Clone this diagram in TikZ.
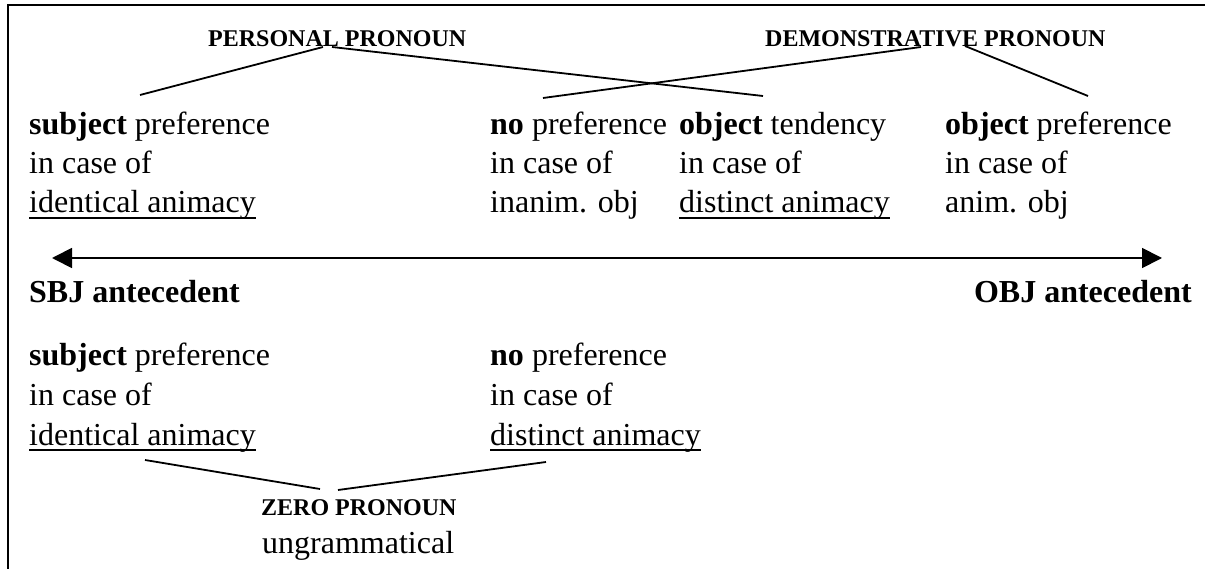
\documentclass[tikz,border=0pt]{standalone}
\usepackage{fontspec}
\setmainfont{Liberation Serif}
\usetikzlibrary{arrows.meta}
\begin{document}
\begin{tikzpicture}[x=1pt,y=-1pt,
  >={Triangle[length=20pt,width=20pt]},
  txt/.style={anchor=base west,inner sep=0pt,font=\fontsize{32}{39}\selectfont},
  txtr/.style={anchor=base east,inner sep=0pt,font=\fontsize{32}{39}\selectfont\bfseries},
  lbl/.style={anchor=base west,inner sep=0pt,font=\fontsize{24}{28}\selectfont\bfseries},
  conn/.style={line width=1.8pt},
  uline/.style={line width=2pt},
  border/.style={line width=2.4pt},
  axis/.style={line width=1.8pt,<->}]
\useasboundingbox (0,0) rectangle (1205,569);
% frame
\coordinate (fb) at (8,569);
\coordinate (ft) at (8,5);
\coordinate (fr) at (1205,5);
\draw[border] (fb) -- (ft) -- (fr);
% labels
\node[lbl] (pp) at (208,47) {PERSONAL PRONOUN};
\node[lbl] (dp) at (765,47) {DEMONSTRATIVE PRONOUN};
% upper row
\node[txt] (a1) at (29,135) {\textbf{subject} preference};
\node[txt] (a2) at (29,174) {in case of};
\node[txt] (a3) at (29,213) {identical animacy};
\node[txt] (b1) at (490,135) {\textbf{no} preference};
\node[txt] (b2) at (490,174) {in case of};
\node[txt] (b3) at (490,213) {inanim. obj};
\node[txt] (c1) at (679,135) {\textbf{object} tendency};
\node[txt] (c2) at (679,174) {in case of};
\node[txt] (c3) at (679,213) {distinct animacy};
\node[txt] (d1) at (945,135) {\textbf{object} preference};
\node[txt] (d2) at (945,174) {in case of};
\node[txt] (d3) at (945,213) {anim. obj};
\draw[uline] ([yshift=-5pt]a3.base west) -- ([yshift=-5pt]a3.base east);
\draw[uline] ([yshift=-5pt]c3.base west) -- ([yshift=-5pt]c3.base east);
% connectors from labels
\coordinate (ppL) at (323,47);
\coordinate (ppR) at (332,47);
\coordinate (dpL) at (921,47);
\coordinate (dpR) at (965,46);
\coordinate (ea) at (140,95);
\coordinate (eb) at (543,98);
\coordinate (ec) at (763,96);
\coordinate (ed) at (1088,96);
\draw[conn] (ppL) -- (ea);
\draw[conn] (ppR) -- (ec);
\draw[conn] (dpL) -- (eb);
\draw[conn] (dpR) -- (ed);
% axis
\coordinate (axL) at (52,258);
\coordinate (axR) at (1162,258);
\draw[axis] (axL) -- (axR);
\node[txt,font=\fontsize{32}{39}\selectfont\bfseries] (sbj) at (29,303) {SBJ antecedent};
\node[txtr] (obj) at (1192,303) {OBJ antecedent};
% lower row
\node[txt] (e1) at (29,365) {\textbf{subject} preference};
\node[txt] (e2) at (29,405) {in case of};
\node[txt] (e3) at (29,445) {identical animacy};
\node[txt] (f1) at (490,365) {\textbf{no} preference};
\node[txt] (f2) at (490,405) {in case of};
\node[txt] (f3) at (490,445) {distinct animacy};
\draw[uline] ([yshift=-5pt]e3.base west) -- ([yshift=-5pt]e3.base east);
\draw[uline] ([yshift=-5pt]f3.base west) -- ([yshift=-5pt]f3.base east);
\node[lbl] (zp) at (261,515) {ZERO PRONOUN};
\node[txt] (ug) at (262,553) {ungrammatical};
\coordinate (ze) at (145,460);
\coordinate (zL) at (320,489);
\coordinate (zR) at (338,490);
\coordinate (zf) at (546,462);
\draw[conn] (ze) -- (zL);
\draw[conn] (zR) -- (zf);
\end{tikzpicture}
\end{document}
